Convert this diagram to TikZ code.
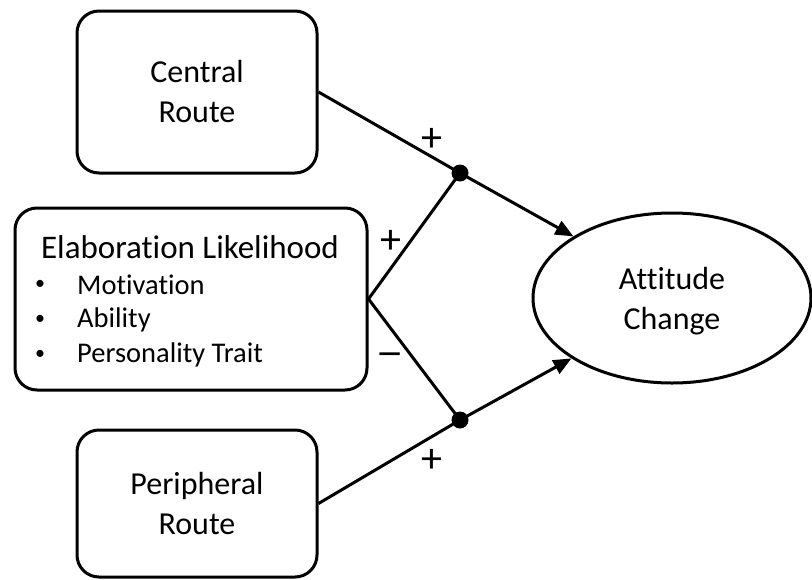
\documentclass[tikz,border=0pt]{standalone}
\usepackage{fontspec}
\setmainfont{Carlito}[Ligatures={NoCommon}]
\usetikzlibrary{arrows.meta,shapes.geometric}

\tikzset{
  box/.style={draw, line width=3pt, rounded corners=22pt, fill=white,
    inner sep=0pt, align=center, font=\fontsize{32}{40}\selectfont},
  oval/.style={draw, ellipse, line width=3pt, inner sep=0pt},
  title/.style={font=\fontsize{33}{38}\selectfont, inner sep=0pt},
  item/.style={font=\fontsize{28.5}{34}\selectfont, inner sep=0pt, anchor=west},
  bullet/.style={font=\fontsize{20}{20}\selectfont, inner sep=0pt},
  junction/.style={circle, fill=black, inner sep=0pt, minimum size=17pt},
  conn/.style={line width=3pt},
  arr/.style={line width=3pt, -{Triangle[length=18pt,width=15pt]}},
  sign/.style={font=\fontsize{42}{42}\selectfont, inner sep=0pt}
}

\begin{document}
\begin{tikzpicture}[x=1pt, y=-1pt]
  \useasboundingbox (0,0) rectangle (812,579);

  % source boxes
  \node[box, minimum width=240pt, minimum height=162pt] (cen) at (197,92)
    {Central\\Route};
  \node[box, minimum width=352pt, minimum height=182pt] (elab) at (191,299) {};
  \node[box, minimum width=240pt, minimum height=147pt] (per) at (197,503.5)
    {Peripheral\\Route};

  % contents of the elaboration box
  \node[title] (elabT) at (190,247) {Elaboration Likelihood};
  \node[bullet] (b1) at (40,285) {•};
  \node[bullet] (b2) at (40,320) {•};
  \node[bullet] (b3) at (40,355) {•};
  \node[item] (i1) at (77,285) {Motivation};
  \node[item] (i2) at (77,320) {Ability};
  \node[item] (i3) at (77,355) {Personality Trait};

  % outcome
  \node[oval, minimum width=278pt, minimum height=170pt] (att) at (672,298) {};
  \node[box, draw=none, fill=none] (attT) at (672,301) {Attitude\\Change};

  % junction points
  \node[junction] (jt) at (460,173) {};
  \node[junction] (jb) at (460,420) {};

  % connectors
  \draw[conn] (cen.east) -- (jt.center);
  \draw[conn] (elab.east) -- (jt.center);
  \draw[conn] (elab.east) -- (jb.center);
  \draw[conn] (per.east) -- (jb.center);
  \draw[arr] (jt.center) -- (att.148.8);
  \draw[arr] (jb.center) -- (att.211.2);

  % signs
  \node[sign] (s1) at (432,140) {+};
  \node[sign] (s2) at (391,242) {+};
  \node[sign] (s3) at (390,360) {\scalebox{1.3}[1]{−}};
  \node[sign] (s4) at (432,461) {+};
\end{tikzpicture}
\end{document}
